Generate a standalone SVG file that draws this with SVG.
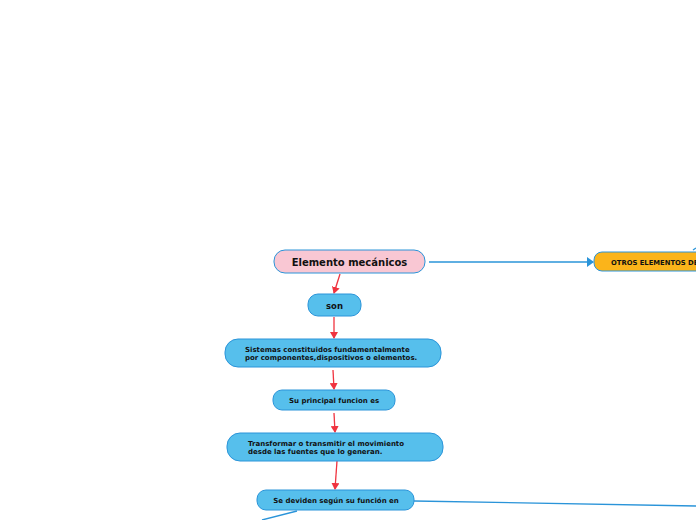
<svg xmlns="http://www.w3.org/2000/svg" width="696" height="520" viewBox="0 0 696 520">
<defs>
<style>
.n{fill:#56bfec;stroke:#2a94d9;stroke-width:1}
.t{font-family:"DejaVu Sans",Verdana,sans-serif;font-weight:bold;fill:#111}
.s{font-size:7px}
.r{stroke:#f0333f;stroke-width:1.3;fill:none}
.b{stroke:#2a94d9;stroke-width:1.3;fill:none}
</style>
<marker id="ar" markerWidth="8" markerHeight="8" refX="6" refY="4" orient="auto" markerUnits="userSpaceOnUse"><path d="M0,0 L7,4 L0,8 Z" fill="#f0333f"/></marker>
<marker id="ab" markerWidth="8" markerHeight="10" refX="6" refY="5" orient="auto" markerUnits="userSpaceOnUse"><path d="M0,0 L7,5 L0,10 Z" fill="#2a94d9"/></marker>
</defs>
<rect width="696" height="520" fill="#fff"/>
<g id="connectors">
<path class="r" d="M340,274 L334,293" marker-end="url(#ar)"/>
<path class="r" d="M334,317 L334,338" marker-end="url(#ar)"/>
<path class="r" d="M333,370 L334,389" marker-end="url(#ar)"/>
<path class="r" d="M334,413 L335,432" marker-end="url(#ar)"/>
<path class="r" d="M337,461 L335,489" marker-end="url(#ar)"/>
<path class="b" d="M429,262 L593,262" marker-end="url(#ab)"/>
<path class="b" d="M414,501 L696,506"/>
<path class="b" d="M297,511 L262,520" stroke="#56bfec"/>
<path class="b" d="M693,250 L696,248" stroke="#56bfec"/>
</g>
<g id="n1">
<rect x="274" y="250" width="151" height="23" rx="11" fill="#f9c7d3" stroke="#2a94d9"/>
<text class="t" x="349.5" y="265.5" font-size="10" text-anchor="middle">Elemento mecánicos</text>
</g>
<g id="n2">
<rect class="n" x="308" y="294" width="53" height="22" rx="10"/>
<text class="t" x="334.5" y="308.5" font-size="8.5" text-anchor="middle">son</text>
</g>
<g id="n3">
<rect class="n" x="225" y="339" width="216" height="28" rx="13"/>
<text class="t s" x="245" y="352">Sistemas constituidos fundamentalmente</text>
<text class="t s" x="245" y="360">por componentes,dispositivos o elementos.</text>
</g>
<g id="n4">
<rect class="n" x="273" y="390" width="122" height="20" rx="9"/>
<text class="t s" x="334" y="402.5" text-anchor="middle">Su principal funcion es</text>
</g>
<g id="n5">
<rect class="n" x="227" y="433" width="216" height="28" rx="13"/>
<text class="t s" x="248" y="445.5">Transformar o transmitir el movimiento</text>
<text class="t s" x="248" y="454">desde las fuentes que lo generan.</text>
</g>
<g id="n6">
<rect class="n" x="257" y="490" width="157" height="20" rx="9"/>
<text class="t s" x="336" y="502.5" text-anchor="middle">Se deviden según su función en</text>
</g>
<g id="n7">
<rect x="594" y="252" width="130" height="19" rx="8" fill="#fbb41a" stroke="#2a94d9"/>
<text class="t" x="611" y="264.5" font-size="6.8">OTROS ELEMENTOS DE</text>
</g>
</svg>
